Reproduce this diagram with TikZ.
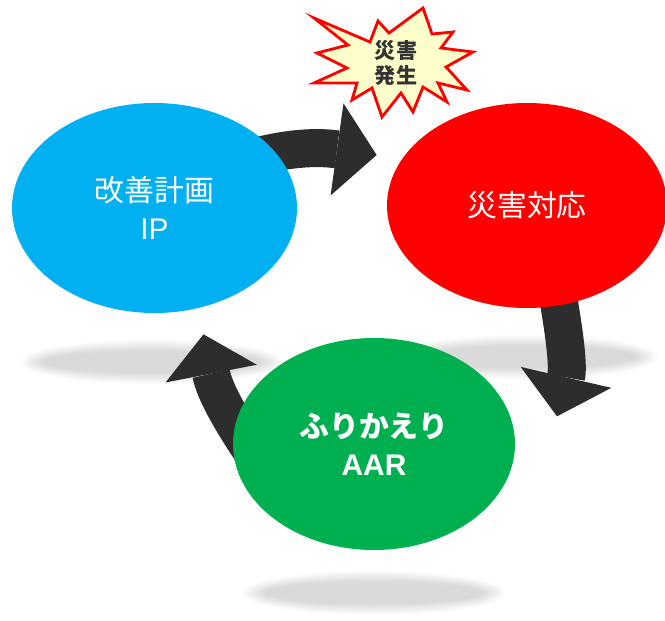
\documentclass[tikz,border=0pt]{standalone}
\usepackage{fontspec}
\setmainfont{Noto Sans CJK JP}
\newfontfamily\arialike{Liberation Sans}
\usetikzlibrary{shapes.geometric, arrows.meta, calc, backgrounds}
\definecolor{celeste}{HTML}{00B0F0}
\definecolor{rojo}{HTML}{FF0000}
\definecolor{verde}{HTML}{00B050}
\definecolor{grisosc}{HTML}{2D2D2D}
\definecolor{crema}{HTML}{FFFFCC}
\definecolor{texto}{HTML}{333333}
\tikzset{
  fase/.style={ellipse, minimum width=5.7cm, minimum height=4.2cm, inner sep=0pt,
               text=white, align=center, font=\fontsize{17}{21.5}\selectfont},
  flecha/.style={line width=0.76cm, draw=grisosc,
                 -{Triangle[length=0.8cm, width=1.86cm, line width=0pt]}},
  estallido/.style={draw=rojo, line width=1.6pt, fill=crema, line join=miter},
  rotulo/.style={font=\fontsize{12}{14.5}\selectfont\bfseries, text=texto, align=center}
}

\begin{document}
\begin{tikzpicture}
  \useasboundingbox (0,0) rectangle (13.3,12.4);
  \node (kaizen) [fase, fill=celeste] at (3.09,8.24) {改善計画\\{\arialike IP}};
  \node (taio) [fase, fill=rojo, minimum width=5.6cm, minimum height=4.1cm] at (10.54,8.29) {災害対応};
  \node (furi) [fase, fill=verde, minimum width=5.64cm, minimum height=4.24cm,
                font=\fontsize{17}{21.5}\selectfont\bfseries] at (7.48,3.52) {ふりかえり\\{\arialike\bfseries AAR}};
  % estallido
  \draw [estallido] (6.28,12.04) -- (7.40,11.56) -- (7.56,11.98) -- (7.78,11.74) -- (8.46,12.24)
    -- (8.64,11.72) -- (9.06,11.76) -- (8.82,11.44) -- (9.46,11.36) -- (8.92,11.06)
    -- (9.34,10.60) -- (8.76,10.74) -- (8.94,10.36) -- (8.46,10.66) -- (8.26,10.16)
    -- (8.02,10.54) -- (7.64,10.06) -- (7.44,10.64) -- (7.04,10.40) -- (7.14,10.74)
    -- (6.28,10.74) -- (6.94,11.04) -- (6.34,11.34) -- (6.96,11.50) -- cycle;
  \node (hassei) [rotulo] at (7.92,11.14) {災害\\発生};
  \begin{scope}[on background layer]
    % sombras
    \foreach \cx/\cy in {3.04/5.16, 10.54/5.26, 7.48/0.54}
      \foreach \k in {0,...,9}
        \fill [black, opacity=0.016] (\cx,\cy) ellipse ({2.62-0.05*\k} and {0.44-0.025*\k});
    \draw [flecha] ($(kaizen.center)!0.85!(kaizen.27)$) to[out=15, in=172] ([shift={(-0.2,1.01)}]taio.west);
    \draw [flecha] ([shift={(0.58,-1.59)}]taio.center) to[out=-80, in=77] ([shift={(0.6,-2.16)}]taio.south);
    \draw [flecha] ([shift={(-2.2,-0.5)}]furi.center) to[out=125, in=-79] ([shift={(0.98,-0.42)}]kaizen.south);
  \end{scope}
\end{tikzpicture}
\end{document}
